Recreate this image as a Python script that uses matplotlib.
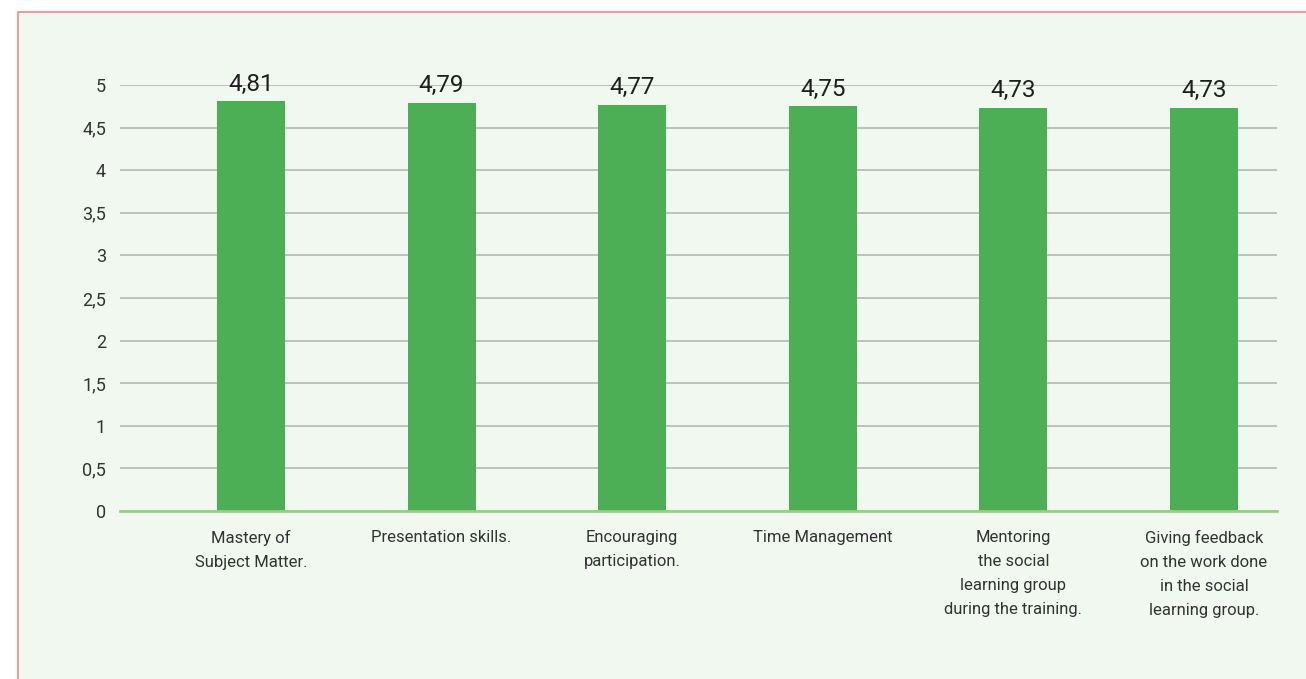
import matplotlib.pyplot as plt
from matplotlib.patches import Rectangle

plt.rcParams['font.family'] = ['Roboto', 'DejaVu Sans']

# dados do gráfico
categorias = [
    "Mastery of\nSubject Matter.",
    "Presentation skills.",
    "Encouraging\nparticipation.",
    "Time Management",
    "Mentoring\nthe social\nlearning group\nduring the training.",
    "Giving feedback\non the work done\nin the social\nlearning group.",
]
medias = [4.81, 4.79, 4.77, 4.75, 4.73, 4.73]
rotulos = ["4,81", "4,79", "4,77", "4,75", "4,73", "4,73"]
ticks_y = [0, 0.5, 1, 1.5, 2, 2.5, 3, 3.5, 4, 4.5, 5]
ticks_y_txt = ["0", "0,5", "1", "1,5", "2", "2,5", "3", "3,5", "4", "4,5", "5"]

fundo = "#f1f8f0"
verde = "#4caf55"

fig = plt.figure(figsize=(13.06, 6.79), dpi=100)
fig.patch.set_facecolor("white")

# moldura com borda vermelha clara
fig.patches.append(Rectangle((18 / 1306, -0.05), 1.1, (679 - 12) / 679 + 0.05,
                             transform=fig.transFigure, facecolor=fundo,
                             edgecolor="#f08a8a", linewidth=1.2, zorder=-10))

ax = fig.add_axes([120 / 1306, (679 - 511) / 679, (1277 - 120) / 1306, (511 - 85) / 679])
ax.set_facecolor("none")
ax.set_zorder(5)

x = range(len(medias))
ax.bar(x, medias, width=0.357, color=verde, zorder=3)

for i, (v, t) in enumerate(zip(medias, rotulos)):
    ax.annotate(t, (i, v), xytext=(0, 4), textcoords="offset points",
                ha="center", va="bottom", fontsize=17.5, color="#1e1e1e")

ax.set_ylim(0, 5)
ax.set_xlim(-0.687, 5.383)
ax.set_yticks(ticks_y)
ax.set_yticklabels(ticks_y_txt, fontsize=13, color="#333333")
ax.set_xticks(list(x))
ax.set_xticklabels(categorias, fontsize=12, color="#333333", linespacing=1.75, va="top")
ax.tick_params(axis="both", length=0)
ax.tick_params(axis="y", pad=10)
ax.tick_params(axis="x", pad=14)

ax.grid(axis="y", color="#b9bdb9", linewidth=1.3, zorder=0)
for lado in ["top", "right", "left"]:
    ax.spines[lado].set_visible(False)
ax.spines["bottom"].set_color("#92d383")
ax.spines["bottom"].set_linewidth(2)
ax.spines["bottom"].set_zorder(4)

fig.savefig("out.png", dpi=100, facecolor=fig.get_facecolor())
